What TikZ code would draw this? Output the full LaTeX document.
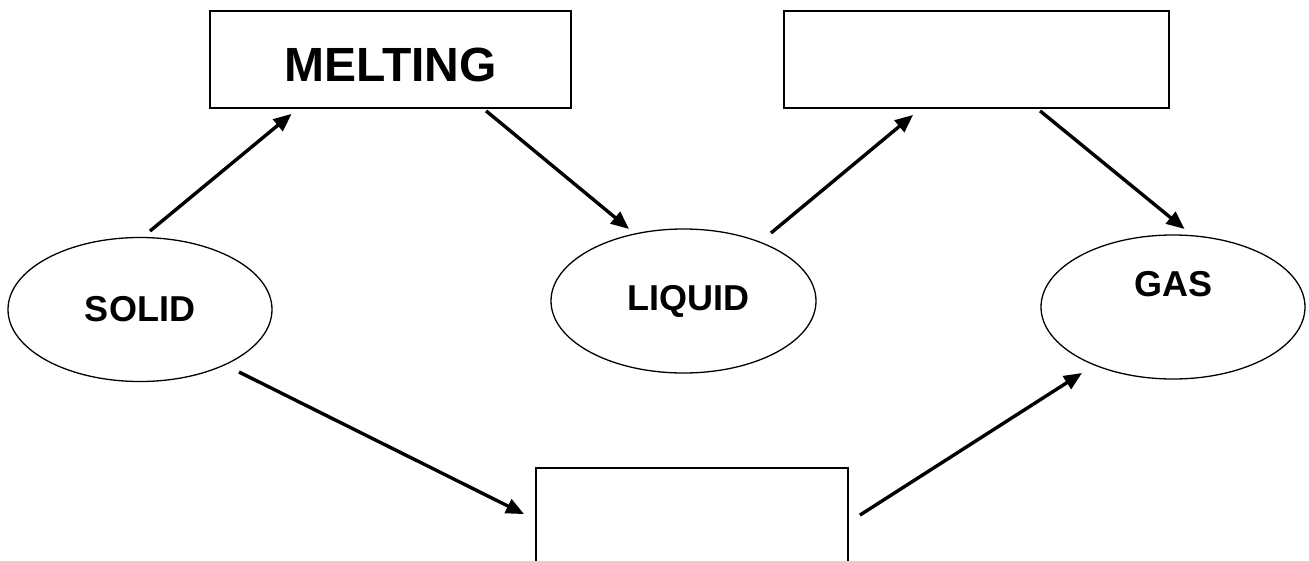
\documentclass[tikz,border=0pt]{standalone}
\usepackage{fontspec}
\setmainfont{Liberation Sans}
\usetikzlibrary{arrows.meta,calc,shapes.geometric}
\begin{document}
\begin{tikzpicture}[x=1pt,y=-1pt,
  box/.style={draw,line width=1.8pt,rectangle,inner sep=0pt},
  oval/.style={draw,line width=1.3pt,ellipse,inner sep=0pt,minimum width=264pt,minimum height=144pt,font=\fontsize{36}{40}\selectfont\bfseries},
  arr/.style={line width=3.4pt,-{Triangle[length=18pt,width=15pt]}}]
\clip (0,0) rectangle (1309,560);
\fill[white] (0,0) rectangle (1309,560);
\node[box,minimum width=361pt,minimum height=97pt,font=\fontsize{48}{52}\selectfont\bfseries] (melt) at (390.5,59.5) {\raisebox{-5.5pt}[\height][0pt]{MELTING}};
\node[box,minimum width=385pt,minimum height=97pt] (boil) at (976.5,59.5) {};
\node[box,minimum width=312pt,minimum height=112pt] (sub) at (692,524) {};
\node[oval] (solid) at (140,309.5) {SOLID};
\node[oval,minimum width=265pt] (liquid) at (683.5,301) {\hspace*{10pt}LIQUID};
\node[oval] (gas) at (1173,307) {\raisebox{23.5pt}[\height][0pt]{GAS}};
\draw[arr] ($(solid.center)+(10,-78.5)$) -- ($(melt.south west)+(82.5,5)$);
\draw[arr] ($(melt.south west)+(277,2)$) -- ($(liquid.center)+(-54.5,-72)$);
\draw[arr] ($(liquid.center)+(87.5,-68)$) -- ($(boil.south west)+(130,6)$);
\draw[arr] ($(boil.south west)+(257,2)$) -- ($(gas.center)+(11.5,-78)$);
\draw[arr] ($(solid.center)+(99,62.5)$) -- ($(sub.north west)+(-11,47)$);
\draw[arr] ($(sub.north east)+(11,48)$) -- ($(gas.center)+(-91,66)$);
\end{tikzpicture}
\end{document}
